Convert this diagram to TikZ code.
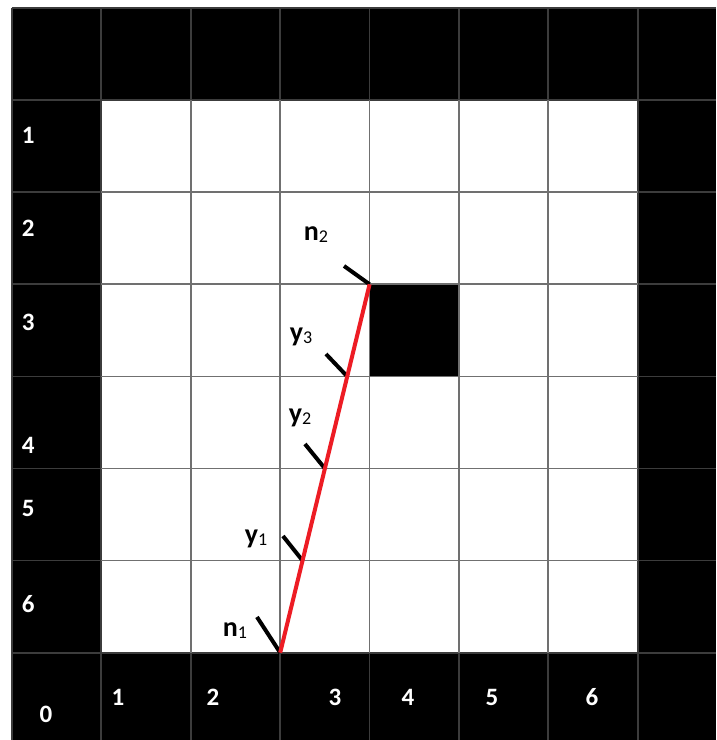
\documentclass[tikz,border=0pt]{standalone}
\usepackage{fontspec}
\setmainfont{Carlito}
\usepackage{xcolor}
\definecolor{cWall}{HTML}{000000}
\definecolor{cGridDark}{HTML}{3C3C3C}
\definecolor{cGridLight}{HTML}{707070}
\definecolor{cRay}{HTML}{ED1C24}
\usetikzlibrary{positioning,calc}
\tikzset{
  grid-dark/.style={draw=cGridDark,line width=1.8pt},
  grid-light/.style={draw=cGridLight,line width=1.8pt},
  lbl-idx/.style={text=white,inner sep=0pt,
    font=\fontsize{25}{25}\selectfont\bfseries},
  lbl-pt/.style={text=black,inner sep=0pt,
    font=\fontsize{28}{28}\selectfont\bfseries},
  hit-tick/.style={draw=black,line width=4pt},
  ray/.style={draw=cRay,line width=4pt},
}
\newcommand{\ptlabel}[2]{#1\raisebox{-2pt}{\fontsize{18}{18}\selectfont\mdseries #2}}

\begin{document}
\begin{tikzpicture}[x=89.4pt,y=-92.1pt]
  \useasboundingbox (-0.1342,-0.0869) rectangle (7.875,7.948);
  % walls, free cells, obstacle
  \fill[cWall] (0,0) rectangle (7.875,7.948);
  \fill[white] (1,1) rectangle (7,7);
  \fill[cWall] (4,3) rectangle (5,4);
  % grid
  \foreach \i in {0,...,7} {
    \draw[grid-dark] (\i,0) -- (\i,7.948);
    \draw[grid-dark] (0,\i) -- (7.875,\i);
  }
  \foreach \i in {2,...,6} {
    \draw[grid-light] (\i,1) -- (\i,7);
    \draw[grid-light] (1,\i) -- (7,\i);
  }
  % row and column indices
  \foreach \lab/\yy in {1/1.379,2/2.389,3/3.409,4/4.745,5/5.429,6/6.471}
    \node[lbl-idx] (row-\lab) at (0.18,\yy) {\lab};
  \foreach \lab/\xx in {1/1.186,2/2.248,3/3.613,4/4.430,5/5.369,6/6.488}
    \node[lbl-idx] (col-\lab) at (\xx,7.486) {\lab};
  \node[lbl-idx] (orig) at (0.38,7.666) {0};
  % crossing points on the ray
  \coordinate (n1) at (3,7);
  \coordinate (y1) at (3.25,6);
  \coordinate (y2) at (3.5,5);
  \coordinate (y3) at (3.75,4);
  \coordinate (n2) at (4,3);
  % tick tails
  \coordinate (t-n1) at (2.740,6.612);
  \coordinate (t-y1) at (3.031,5.733);
  \coordinate (t-y2) at (3.277,4.734);
  \coordinate (t-y3) at (3.512,3.757);
  \coordinate (t-n2) at (3.714,2.801);
  \foreach \p in {n1,y1,y2,y3,n2}
    \draw[hit-tick] (t-\p) -- (\p);
  \draw[ray] (n1) -- (n2);
  % point labels
  \node[lbl-pt] (lbl-n1) at (2.494,6.764) {\ptlabel{n}{1}};
  \node[lbl-pt] (lbl-y1) at (2.729,5.765) {\ptlabel{y}{1}};
  \node[lbl-pt] (lbl-y2) at (3.221,4.452) {\ptlabel{y}{2}};
  \node[lbl-pt] (lbl-y3) at (3.233,3.572) {\ptlabel{y}{3}};
  \node[lbl-pt] (lbl-n2) at (3.400,2.465) {\ptlabel{n}{2}};
\end{tikzpicture}
\end{document}
